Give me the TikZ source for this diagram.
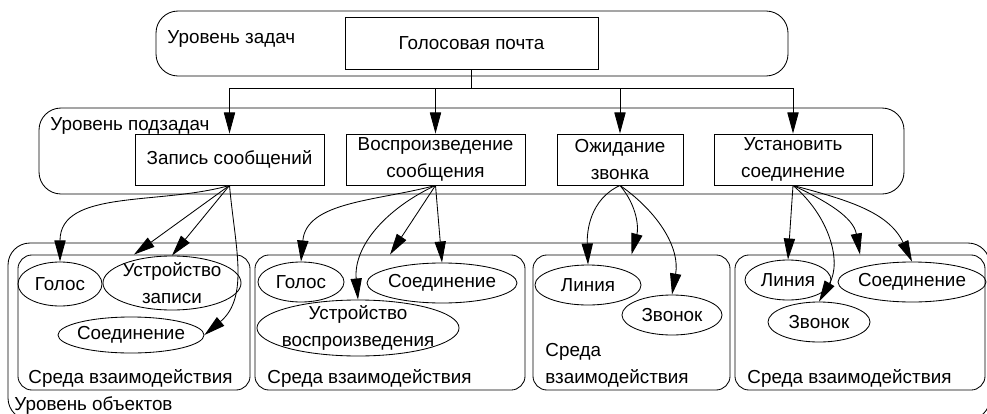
\documentclass[tikz,border=0pt]{standalone}
\usepackage{fontspec}
\setmainfont{Liberation Sans}
\usetikzlibrary{shapes.geometric,arrows.meta}

\begin{document}
\begin{tikzpicture}[x=0.025cm,y=0.025cm,line width=0.6pt,
    every node/.style={font=\fontsize{13.4}{19}\selectfont},
    task/.style={draw,rectangle,inner sep=0pt,align=center,minimum height=1.275cm},
    obj/.style={draw,ellipse,inner xsep=-0.3cm,inner ysep=-0.2cm,align=center,minimum height=1cm},
    envbox/.style={draw,rectangle,rounded corners=0.35cm,inner sep=0pt,minimum height=3.375cm},
    lbl/.style={anchor=base west,inner sep=0pt,align=left},
    arr/.style={-{Triangle[length=15pt,width=8pt]}}]
    \useasboundingbox (0,0) rectangle (987,-414);
    \clip (0,0) rectangle (987,-414);

    % levels
    \draw[rounded corners=0.55cm] (156,-11) rectangle (788,-76); % tasks
    \draw[rounded corners=0.55cm] (39,-108) rectangle (904,-194); % subtasks
    \draw[rounded corners=0.55cm] (8,-243) rectangle (990,-420); % objects
    \node[lbl] (lvltask) at (167,-44) {Уровень задач};
    \node[lbl] (lvlsub) at (50,-130) {Уровень подзадач};
    \node[lbl] (lvlobj) at (14,-410) {Уровень объектов};

    % tasks
    \node[task,minimum width=6.325cm,minimum height=1.3cm] (mail) at (471.5,-43) {Голосовая почта};
    \node[task,minimum width=4.725cm] (zap) at (229.5,-159.5) {Запись сообщений};
    \node[task,minimum width=4.475cm] (play) at (435.5,-159.5) {Воспроизведение\\сообщения};
    \node[task,minimum width=3.15cm] (wait) at (620,-159.5) {Ожидание\\звонка};
    \node[task,minimum width=3.95cm] (conn) at (793,-159.5) {Установить\\соединение};

    \coordinate (bus) at (0,-88);
    \foreach \t in {zap,play,wait,conn}
        \draw[arr] (mail.south) -- (mail.south |- bus) -| (\t.north);

    % environments
    \node[envbox,minimum width=5.8cm] (env1) at (134,-322.5) {};
    \node[envbox,minimum width=6.75cm] (env2) at (390,-322.5) {};
    \node[envbox,minimum width=4.925cm] (env3) at (631.5,-322.5) {};
    \node[envbox,minimum width=6.25cm] (env4) at (860,-322.5) {};
    \node[lbl] (envlbl1) at (28,-383) {Среда взаимодействия};
    \node[lbl] (envlbl2) at (267,-383) {Среда взаимодействия};
    \node[lbl,anchor=west] (envlbl3) at (545,-365) {Среда\\взаимодействия};
    \node[lbl] (envlbl4) at (747,-383) {Среда взаимодействия};

    % objects
    \node[obj,minimum width=2.1cm,minimum height=1.1cm] (voice1) at (60,-284) {Голос};
    \node[obj,minimum width=3.45cm,minimum height=1.35cm] (rec1) at (172,-283) {Устройство\\записи};
    \node[obj,minimum width=3.65cm,minimum height=0.9cm] (link1) at (131,-335) {Соединение};
    \node[obj,minimum width=2.15cm] (voice2) at (301,-282) {Голос};
    \node[obj,minimum width=3.75cm] (link2) at (442,-283) {Соединение};
    \node[obj,minimum width=5.05cm,minimum height=1.4cm] (dev2) at (358,-328) {Устройство\\воспроизведения};
    \node[obj,minimum width=2.65cm] (line3) at (588,-285) {Линия};
    \node[obj,minimum width=2.5cm] (ring3) at (672,-315) {Звонок};
    \node[obj,minimum width=2.15cm] (line4) at (788,-280) {Линия};
    \node[obj,minimum width=3.7cm] (link4) at (912,-282) {Соединение};
    \node[obj,minimum width=2.55cm] (ring4) at (819,-322) {Звонок};

    % subtask -> objects
    \draw[arr] (zap.south) to[out=196,in=90] (voice1.north);
    \draw[arr] (zap.south) -- (env1.north);
    \draw[arr] (zap.south) -- (rec1.north);
    \draw[arr] (zap.south) to[out=-85,in=40] (link1.east);

    \draw[arr] (play.south) to[out=195,in=85] (voice2.north);
    \draw[arr] (play.south) to[out=205,in=95] (dev2.north);
    \draw[arr] (play.south) -- (env2.north);
    \draw[arr] (play.south) -- (link2.north);

    \draw[arr] (wait.south) to[out=205,in=92] (line3.north);
    \draw[arr] (wait.south) to[out=-50,in=75] (env3.north);
    \draw[arr] (wait.south) to[out=-35,in=80] (ring3.north);

    \draw[arr] (conn.south) -- (line4.north);
    \draw[arr] (conn.south) to[out=-40,in=60] (ring4.north);
    \draw[arr] (conn.south) to[out=-25,in=100] (env4.north);
    \draw[arr] (conn.south) to[out=-15,in=115] (link4.north);
\end{tikzpicture}
\end{document}
